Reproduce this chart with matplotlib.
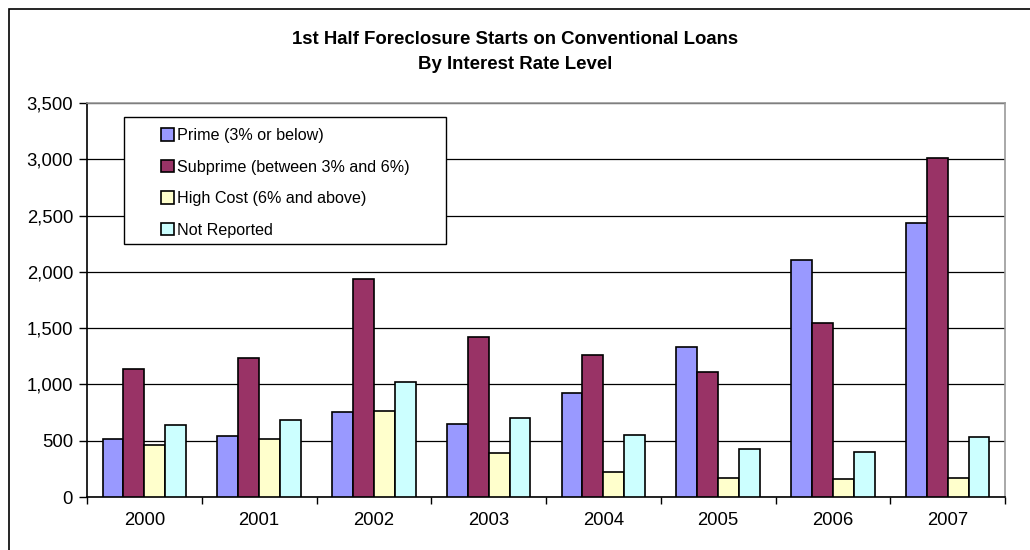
import numpy as np
from matplotlib import pyplot as plt
from matplotlib.patches import Rectangle
from matplotlib.ticker import FuncFormatter, MultipleLocator

years = ['2000', '2001', '2002', '2003', '2004', '2005', '2006', '2007']
prime = [518, 545, 752, 651, 921, 1332, 2105, 2431]
subprime = [1137, 1235, 1940, 1418, 1261, 1107, 1542, 3008]
high_cost = [459, 512, 767, 391, 225, 169, 157, 169]
not_reported = [637, 687, 1019, 702, 553, 424, 400, 536]

series = [
    ('Prime (3% or below)', prime, '#9999ff'),
    ('Subprime (between 3% and 6%)', subprime, '#993366'),
    ('High Cost (6% and above)', high_cost, '#ffffcc'),
    ('Not Reported', not_reported, '#ccffff'),
]

plt.rcParams['font.family'] = ['Liberation Sans', 'DejaVu Sans']

W, H = 1030, 550
fig = plt.figure(figsize=(W / 100, H / 100), dpi=100)
# outer chart border (runs off the right/bottom edge like the original)
fig.patches.append(Rectangle((9 / W, -0.05), 1.1, 1 - 9 / H + 0.05,
                             transform=fig.transFigure, fill=False,
                             edgecolor='black', linewidth=1.2))

left, right, top, bottom = 87, 1005, 103, 497
ax = fig.add_axes([left / W, 1 - bottom / H, (right - left) / W, (bottom - top) / H])
aw, ah = right - left, bottom - top

x = np.arange(len(years))
width = 0.182
for i, (name, vals, color) in enumerate(series):
    ax.bar(x + (i - 1.5) * width, vals, width, color=color, edgecolor='black',
           linewidth=1.2, label=name, zorder=3)

ax.set_xlim(-0.5, len(years) - 0.5)
ax.set_ylim(0, 3500)
ax.yaxis.set_major_locator(MultipleLocator(500))
ax.yaxis.set_major_formatter(FuncFormatter(lambda v, p: '{:,.0f}'.format(v)))
ax.set_xticks(x)
ax.set_xticklabels(years)
ax.set_xticks(np.arange(len(years) + 1) - 0.5, minor=True)
ax.tick_params(axis='x', which='major', length=0, pad=11, labelsize=13.3)
ax.tick_params(axis='x', which='minor', length=5, width=1, direction='out')
ax.tick_params(axis='y', length=6, width=1, direction='out', labelsize=13.3, pad=4)
ax.grid(axis='y', color='black', linewidth=0.9, zorder=0)

ax.spines['left'].set_color('black')
ax.spines['bottom'].set_color('black')
ax.spines['top'].set_color('#999999')
ax.spines['right'].set_color('#999999')
for s in ax.spines.values():
    s.set_linewidth(1.2)

# legend box (Excel style, wide padding)
ax.add_patch(Rectangle(((124 - left) / aw, (bottom - 244) / ah), (446 - 124) / aw, (244 - 117) / ah,
                       transform=ax.transAxes, facecolor='white', edgecolor='black',
                       linewidth=1.0, zorder=5))
leg = ax.legend(loc='upper left', bbox_to_anchor=((161 - left) / aw, (bottom - 128) / ah),
                frameon=False, fontsize=11.65,
                handlelength=0.8, handleheight=0.8, handletextpad=0.2,
                labelspacing=1.02, borderpad=0, borderaxespad=0)
leg.set_zorder(6)

fig.text(0.5, 1 - 52 / H, '1st Half Foreclosure Starts on Conventional Loans\nBy Interest Rate Level',
         ha='center', va='center', fontsize=13.4, fontweight='bold', linespacing=1.6)

fig.savefig('out.png', dpi=100)
